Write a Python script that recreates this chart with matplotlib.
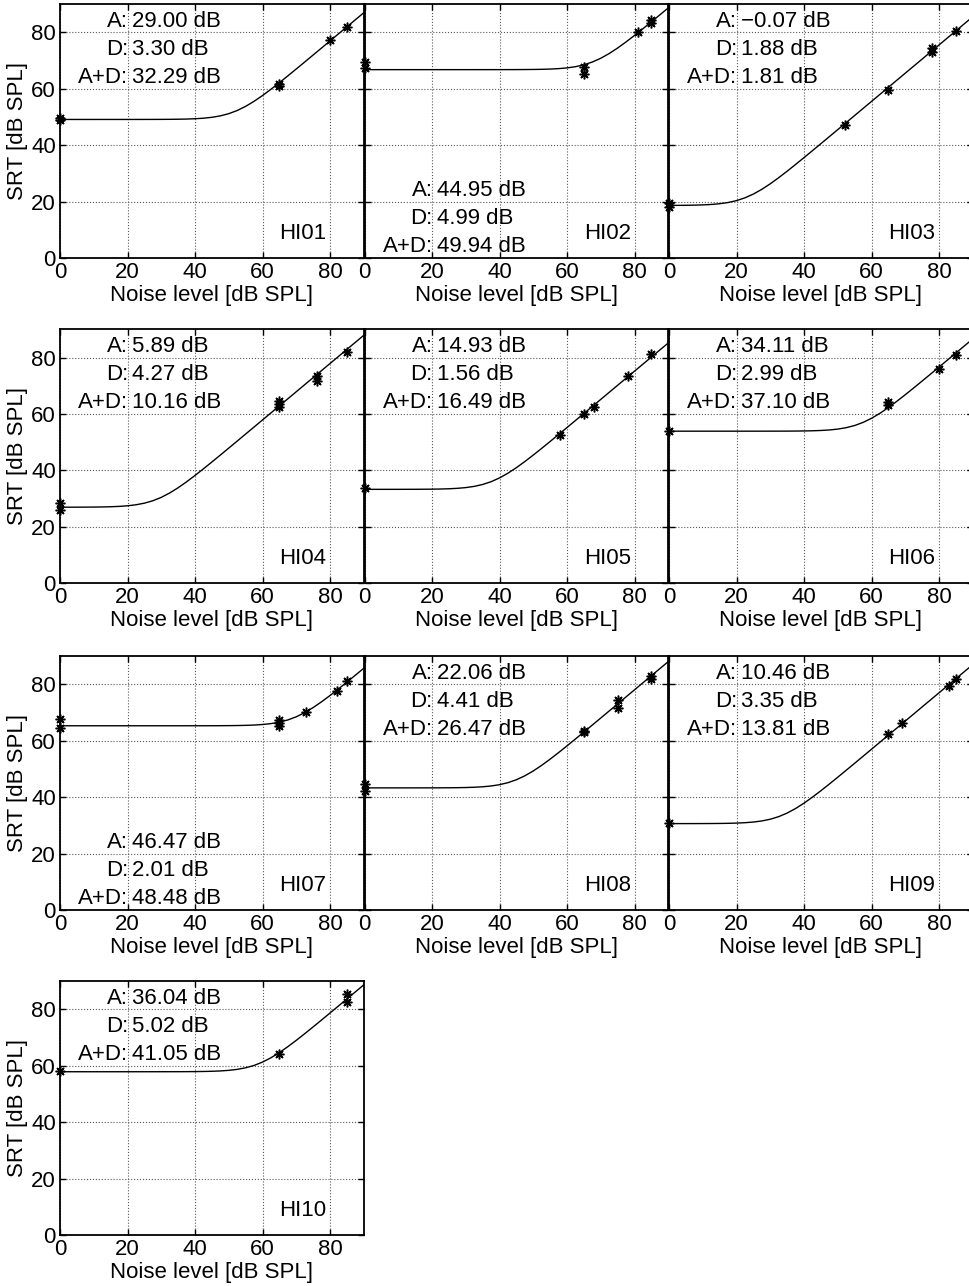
import numpy as np
import matplotlib.pyplot as plt

plt.rcParams['font.family'] = ['Liberation Sans', 'DejaVu Sans']
plt.rcParams['font.size'] = 16

# fitted Plomp parameters per listener
subjects = ['HI01', 'HI02', 'HI03', 'HI04', 'HI05', 'HI06', 'HI07', 'HI08', 'HI09', 'HI10']
a_vals = [29.00, 44.95, -0.07, 5.89, 14.93, 34.11, 46.47, 22.06, 10.46, 36.04]
d_vals = [3.30, 4.99, 1.88, 4.27, 1.56, 2.99, 2.01, 4.41, 3.35, 5.02]
ad_vals = [32.29, 49.94, 1.81, 10.16, 16.49, 37.10, 48.48, 26.47, 13.81, 41.05]

noise = [
    [0, 0, 65, 65, 80, 85],
    [0, 0, 65, 65, 81, 85, 85],
    [0, 0, 52, 65, 78, 78, 85],
    [0, 0, 65, 65, 65, 76, 76, 85],
    [0, 58, 65, 68, 78, 85],
    [0, 65, 65, 80, 85],
    [0, 0, 65, 65, 65, 73, 82, 85],
    [0, 0, 65, 65, 75, 75, 85, 85],
    [0, 65, 69, 83, 85],
    [0, 65, 85, 85],
]
srt = [
    [49.0, 49.6, 61.0, 61.5, 77.1, 82.0],
    [69.6, 67.3, 67.8, 65.2, 80.0, 84.4, 83.2],
    [19.4, 18.0, 47.0, 59.7, 74.3, 73.1, 80.5],
    [28.5, 25.9, 64.6, 63.7, 62.3, 73.6, 71.6, 81.9],
    [33.7, 52.6, 59.9, 62.4, 73.5, 81.2],
    [53.8, 64.4, 63.2, 75.9, 81.0],
    [67.6, 64.5, 67.3, 66.4, 65.2, 70.2, 77.6, 81.0],
    [44.8, 42.2, 63.4, 62.9, 74.3, 71.4, 82.9, 82.0],
    [30.7, 62.2, 66.3, 79.3, 81.7],
    [58.2, 64.3, 85.3, 82.6],
]
text_low = ['HI02', 'HI07']

# normal-hearing reference values of the model
L_QUIET = 16.8
SNR_NOISE = -6.4
n_fit = np.arange(0, 91, 2.5)

W, H = 969, 1286
fig = plt.figure(figsize=(W / 100, H / 100), dpi=100)

col_left = [60, 364.5, 669]
row_bottom = [258, 583.3, 910, 1235]
ax_w = 303.75
ax_h = 254

asterisk = (8, 2, 0)

for i, name in enumerate(subjects):
    r, c = divmod(i, 3)
    ax = fig.add_axes([col_left[c] / W, 1 - row_bottom[r] / H, ax_w / W, ax_h / H])

    fit = 10 * np.log10(10 ** ((L_QUIET + ad_vals[i]) / 10) +
                        10 ** ((n_fit + SNR_NOISE + d_vals[i]) / 10))
    ax.plot(n_fit, fit, color='black', linewidth=1.0)
    ax.plot(noise[i], srt[i], linestyle='none', marker=asterisk, markersize=7,
            markeredgewidth=1.1, color='black', clip_on=False, zorder=5)

    ax.set_xlim(0, 90)
    ax.set_ylim(0, 90)
    ax.set_xticks([0, 20, 40, 60, 80])
    ax.set_yticks([0, 20, 40, 60, 80])
    ax.grid(True, linestyle=':', color='0.35', linewidth=0.8)
    ax.tick_params(direction='in', length=4, width=1, top=True, right=True, pad=3)
    for s in ax.spines.values():
        s.set_linewidth(1.3)
    ax.set_xlabel('Noise level [dB SPL]', labelpad=1)
    if c == 0:
        ax.set_ylabel('SRT [dB SPL]', labelpad=2)
    else:
        ax.set_yticklabels([])

    if name in text_low:
        ys = [22, 12, 2]
    else:
        ys = [82, 72, 62]
    a_txt = '%.2f dB' % a_vals[i]
    a_txt = a_txt.replace('-', '\u2212')
    rows = [('A:', a_txt), ('D:', '%.2f dB' % d_vals[i]), ('A+D:', '%.2f dB' % ad_vals[i])]
    for (lab, val), y in zip(rows, ys):
        ax.text(20.2, y, lab, ha='right', va='baseline')
        ax.text(21.4, y, val, ha='left', va='baseline')
    ax.text(65, 6.7, name, ha='left', va='baseline')

fig.savefig('out.png', dpi=100)
